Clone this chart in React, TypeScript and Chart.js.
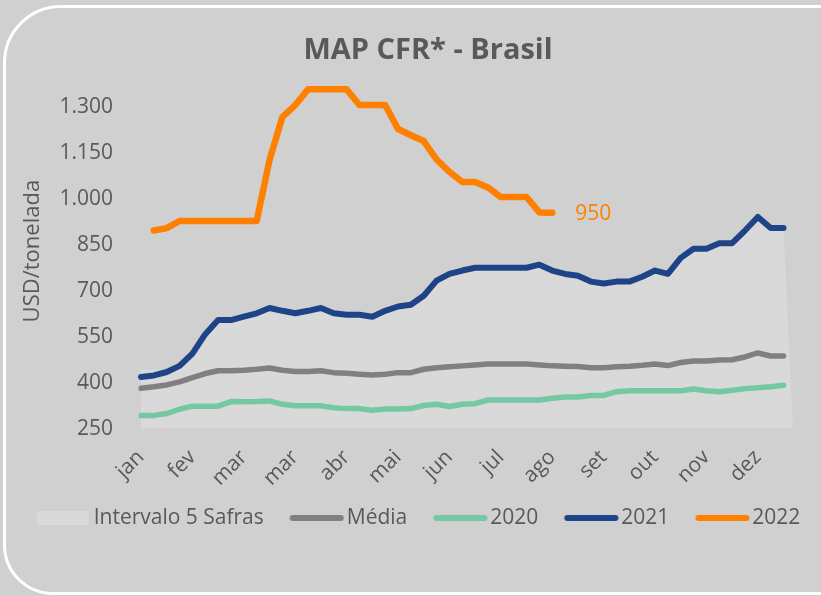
import { useEffect, useRef } from 'react';
import { Chart, registerables } from 'chart.js';

Chart.register(...registerables);

// ---- data ----
const categories = [
  'S01', 'S02', 'S03', 'S04', 'S05', 'S06', 'S07', 'S08', 'S09', 'S10',
  'S11', 'S12', 'S13', 'S14', 'S15', 'S16', 'S17', 'S18', 'S19', 'S20',
  'S21', 'S22', 'S23', 'S24', 'S25', 'S26', 'S27', 'S28', 'S29', 'S30',
  'S31', 'S32', 'S33', 'S34', 'S35', 'S36', 'S37', 'S38', 'S39', 'S40',
  'S41', 'S42', 'S43', 'S44', 'S45', 'S46', 'S47', 'S48', 'S49', 'S50',
  'S51', 'S52',
];
const xTickLabels = ['jan', 'fev', 'mar', 'mar', 'abr', 'mai', 'jun', 'jul', 'ago', 'set', 'out', 'nov', 'dez'];
const xTickEvery = 4;
const yTicks = [250, 400, 550, 700, 850, 1000, 1150, 1300];
const yMin = 250;
const yMax = 1400;

const intervalo5Safras = [
  440, 440, 440, 452, 492, 555, 601, 601, 612, 623,
  640, 631, 623, 631, 640, 623, 618, 618, 612, 631,
  645, 651, 680, 729, 751, 762, 771, 771, 771, 771,
  771, 781, 762, 751, 745, 726, 720, 726, 726, 742,
  762, 751, 803, 833, 833, 851, 851, 892, 936, 900,
  900, 0,
];
const media = [
  379, 384, 390, 400, 414, 427, 436, 436, 438, 441,
  445, 438, 434, 434, 436, 430, 428, 425, 422, 425,
  430, 430, 441, 446, 449, 452, 455, 458, 458, 458,
  458, 455, 452, 451, 450, 446, 446, 449, 451, 454,
  458, 453, 463, 468, 468, 471, 472, 481, 494, 484,
  484, null,
];
const s2020 = [
  291, 291, 297, 311, 321, 321, 321, 336, 335, 336,
  338, 327, 322, 322, 322, 316, 313, 313, 308, 312,
  312, 313, 323, 327, 320, 327, 329, 341, 341, 341,
  341, 341, 347, 351, 351, 356, 356, 368, 371, 371,
  371, 371, 371, 377, 371, 368, 373, 378, 381, 384,
  389, null,
];
const s2021 = [
  416, 421, 432, 452, 492, 555, 601, 601, 612, 623,
  640, 631, 623, 631, 640, 623, 618, 618, 612, 631,
  645, 651, 680, 729, 751, 762, 771, 771, 771, 771,
  771, 781, 762, 751, 745, 726, 720, 726, 726, 742,
  762, 751, 803, 833, 833, 851, 851, 892, 936, 900,
  900, null,
];
const s2022 = [
  null, 892, 900, 923, 923, 923, 923, 923, 923, 923,
  1121, 1261, 1300, 1351, 1351, 1351, 1351, 1300, 1300, 1300,
  1222, 1202, 1183, 1123, 1083, 1050, 1050, 1032, 1001, 1001,
  1001, 951, 950, null, null, null, null, null, null, null,
  null, null, null, null, null, null, null, null, null, null,
  null, null,
];

// ---- style ----
const FONT = "'Open Sans', 'Noto Sans', sans-serif";
const TEXT = '#595959';
const BAND = '#d9d9d9';
const GRAY = '#808080';
const GREEN = '#75c8a4';
const BLUE = '#1f4387';
const ORANGE = '#ff7f00';
const BG = '#d0d0d0';

const LEGEND_W = 66;

const fmt = (v: number) =>
  v >= 1000 ? `${Math.floor(v / 1000)}.${String(v % 1000).padStart(3, '0')}` : String(v);

function makeSwatch(kind: 'rect' | 'line', color: string): HTMLCanvasElement {
  const vs = LEGEND_W - 46.5;
  const len = kind === 'rect' ? 52 : 54;
  const ve = vs + len;
  const c = LEGEND_W / 2;
  const half = Math.ceil(Math.max(c - vs, ve - c));
  const cv = document.createElement('canvas');
  cv.width = half * 2;
  cv.height = 16;
  const g = cv.getContext('2d')!;
  const ox = half - c;
  if (kind === 'rect') {
    g.fillStyle = color;
    g.fillRect(ox + vs, 1, len, 14);
  } else {
    g.strokeStyle = color;
    g.lineWidth = 6;
    g.lineCap = 'round';
    g.beginPath();
    g.moveTo(ox + vs + 3, 8);
    g.lineTo(ox + ve - 3, 8);
    g.stroke();
  }
  return cv;
}

const layoutTweaks = {
  id: 'layoutTweaks',
  afterLayout(chart: any) {
    const t = chart.titleBlock;
    if (t) {
      t.left = 35;
      t.right = 821;
    }
    const l = chart.legend;
    if (l) {
      l.left = 0;
      l.right = 817.5;
    }
  },
};

const endLabel = {
  id: 'endLabel',
  afterDatasetsDraw(chart: any) {
    const idx = chart.data.datasets.findIndex((d: any) => d.label === '2022');
    if (idx < 0) return;
    const meta = chart.getDatasetMeta(idx);
    const data = chart.data.datasets[idx].data as (number | null)[];
    let last = -1;
    for (let i = data.length - 1; i >= 0; i--) {
      if (data[i] != null) { last = i; break; }
    }
    if (last < 0) return;
    const pt = meta.data[last];
    const ctx = chart.ctx;
    ctx.save();
    ctx.font = `21px ${FONT}`;
    ctx.fillStyle = ORANGE;
    ctx.textAlign = 'left';
    ctx.textBaseline = 'middle';
    ctx.fillText(fmt(data[last] as number), pt.x + 23, pt.y + 1.5);
    ctx.restore();
  },
};

export default function App() {
  const ref = useRef<HTMLCanvasElement | null>(null);

  useEffect(() => {
    if (!ref.current) return;
    const swatches = {
      band: makeSwatch('rect', BAND),
      media: makeSwatch('line', GRAY),
      s2020: makeSwatch('line', GREEN),
      s2021: makeSwatch('line', BLUE),
      s2022: makeSwatch('line', ORANGE),
    };
    const lineCommon = {
      fill: false,
      pointRadius: 0,
      pointHoverRadius: 0,
      tension: 0,
      borderCapStyle: 'round' as const,
      borderJoinStyle: 'round' as const,
    };
    const chart = new Chart(ref.current, {
      type: 'line',
      data: {
        labels: categories,
        datasets: [
          {
            label: 'Intervalo 5 Safras',
            data: intervalo5Safras,
            fill: 'start',
            backgroundColor: BAND,
            borderColor: BAND,
            borderWidth: 0,
            pointRadius: 0,
            tension: 0,
            order: 5,
          },
          { ...lineCommon, label: 'Média', data: media, borderColor: GRAY, borderWidth: 5.5, order: 3 },
          { ...lineCommon, label: '2020', data: s2020, borderColor: GREEN, borderWidth: 5.5, order: 4 },
          { ...lineCommon, label: '2021', data: s2021, borderColor: BLUE, borderWidth: 6, order: 2 },
          { ...lineCommon, label: '2022', data: s2022, borderColor: ORANGE, borderWidth: 6.5, order: 1 },
        ],
      },
      options: {
        responsive: false,
        animation: false,
        events: [],
        layout: { padding: { left: 0, right: 0, top: 33.6, bottom: 57.5 } },
        scales: {
          x: {
            type: 'category',
            offset: false,
            grid: { display: false, drawTicks: false },
            border: { display: false },
            ticks: {
              autoSkip: false,
              minRotation: 45,
              maxRotation: 45,
              padding: 17,
              color: TEXT,
              font: { family: FONT, size: 21 },
              callback: (_v: any, i: number) => (i % xTickEvery === 0 ? xTickLabels[i / xTickEvery] ?? '' : ''),
            },
            afterFit: (s: any) => {
              s.height = 73;
              s.paddingLeft = 0;
              s.paddingRight = 0;
            },
          },
          y: {
            min: yMin,
            max: yMax,
            grid: { display: false, drawTicks: false },
            border: { display: false },
            afterBuildTicks: (s: any) => { s.ticks = yTicks.map((value) => ({ value })); },
            ticks: {
              padding: 28,
              labelOffset: 1.5,
              color: TEXT,
              font: { family: FONT, size: 21 },
              callback: (v: any) => fmt(Number(v)),
            },
            title: {
              display: true,
              text: 'USD/tonelada',
              color: TEXT,
              font: { family: FONT, size: 22 },
              padding: { top: 20, bottom: 0 },
            },
            afterFit: (s: any) => { s.width = 141; },
          },
          yRight: {
            type: 'linear',
            position: 'right',
            display: true,
            min: yMin,
            max: yMax,
            grid: { display: false, drawTicks: false },
            border: { display: false },
            ticks: { display: false },
            afterFit: (s: any) => { s.width = 24.6; },
          },
        },
        plugins: {
          title: {
            display: true,
            text: 'MAP CFR* - Brasil',
            color: TEXT,
            font: { family: FONT, size: 29, weight: 'bold' },
            padding: { top: 0, bottom: 5.9 },
          },
          legend: {
            display: true,
            position: 'bottom',
            labels: {
              usePointStyle: true,
              pointStyleWidth: LEGEND_W,
              boxHeight: 14,
              padding: 6.5,
              color: TEXT,
              font: { family: FONT, size: 21 },
              generateLabels: () => [
                { text: 'Intervalo 5 Safras', pointStyle: swatches.band, fillStyle: BAND, strokeStyle: BAND, lineWidth: 0, hidden: false, datasetIndex: 0, fontColor: TEXT },
                { text: 'Média', pointStyle: swatches.media, fillStyle: GRAY, strokeStyle: GRAY, lineWidth: 0, hidden: false, datasetIndex: 1, fontColor: TEXT },
                { text: '2020', pointStyle: swatches.s2020, fillStyle: GREEN, strokeStyle: GREEN, lineWidth: 0, hidden: false, datasetIndex: 2, fontColor: TEXT },
                { text: '2021', pointStyle: swatches.s2021, fillStyle: BLUE, strokeStyle: BLUE, lineWidth: 0, hidden: false, datasetIndex: 3, fontColor: TEXT },
                { text: '2022', pointStyle: swatches.s2022, fillStyle: ORANGE, strokeStyle: ORANGE, lineWidth: 0, hidden: false, datasetIndex: 4, fontColor: TEXT },
              ] as any,
            },
          },
          tooltip: { enabled: false },
        },
      },
      plugins: [layoutTweaks, endLabel],
    });
    return () => chart.destroy();
  }, []);

  return (
    <div style={{ position: 'fixed', left: 0, top: 0, width: 821, height: 596, background: BG, overflow: 'hidden' }}>
      <div
        style={{
          position: 'absolute',
          left: 3,
          top: 5,
          width: 880,
          height: 590,
          boxSizing: 'border-box',
          border: '3px solid #ffffff',
          borderRadius: '58px 0 0 50px',
        }}
      />
      <canvas ref={ref} width={821} height={596} style={{ position: 'absolute', left: 0, top: 0 }} />
    </div>
  );
}
